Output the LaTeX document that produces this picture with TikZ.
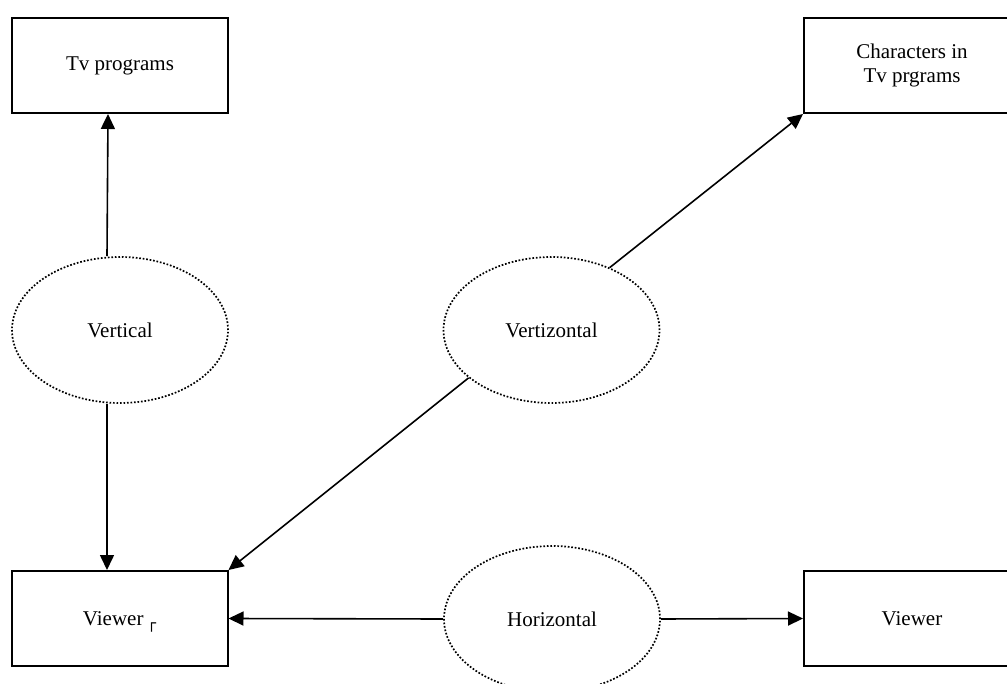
\documentclass[tikz,border=0pt]{standalone}
\usepackage{fontspec}
\setmainfont{Liberation Serif}
\newfontfamily\boxglyph{DejaVu Sans}
\usetikzlibrary{arrows.meta,shapes.geometric}

\begin{document}
\begin{tikzpicture}[
  x=0.5pt, y=-0.5pt,
  every node/.style={font=\fontsize{10.5}{12}\selectfont},
  box/.style={rectangle, draw, line width=1pt, minimum width=108pt, minimum height=47.5pt, align=center, inner sep=0pt},
  link/.style={ellipse, draw, line width=0.85pt, dash pattern=on 0.85pt off 0.9pt, minimum width=108pt, minimum height=73pt, inner sep=0pt},
  arrow/.style={-{Triangle[length=7.5pt,width=7pt]}, line width=0.8pt}
]
\useasboundingbox (0,0) rectangle (1007,684);
\clip (0,0) rectangle (1007,684);

\node[box] (tv) at (120,65.5) {Tv programs};
\node[box] (chars) at (912,65.5) {Characters in\\Tv prgrams};
\node[box] (viewerl) at (119.5,618.5) {Viewer\,\smash{\raisebox{-1.5pt}{\boxglyph\fontsize{7.5}{7.5}\selectfont ┌}}};
\node[box] (viewerr) at (912,618.5) {Viewer};

\node[link] (vert) at (120,330) {Vertical};
\node[link] (vertiz) at (551.5,330) {Vertizontal};
\node[link] (horiz) at (552,619) {Horizontal};

% vertical
\draw[arrow] ([xshift=-6.5pt]vert.north) -- ([xshift=-6pt]tv.south);
\draw[arrow] ([xshift=-6.5pt]vert.south) -- ([xshift=-6.25pt]viewerl.north);
% vertizontal
\draw[arrow] (vertiz.47) -- (chars.south west);
\draw[arrow] (vertiz.210) -- (viewerl.north east);
% horizontal
\draw[arrow] (horiz.west) -- (viewerl.east);
\draw[arrow] (horiz.east) -- (viewerr.west);
\end{tikzpicture}
\end{document}
